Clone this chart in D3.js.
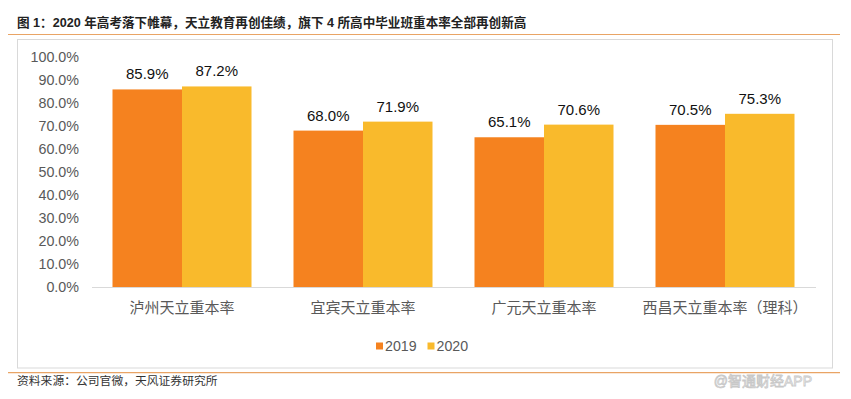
<!DOCTYPE html>
<html><head><meta charset="utf-8">
<script src="https://cdn.jsdelivr.net/npm/d3@7"></script>
<style>
html,body{margin:0;padding:0;background:#fff;}
svg{display:block;}
</style></head>
<body>
<svg id="c" width="851" height="399"></svg>
<script>
const categories = ["泸州天立重本率","宜宾天立重本率","广元天立重本率","西昌天立重本率（理科）"];
const seriesNames = ["2019","2020"];
const values2019 = [85.9, 68.0, 65.1, 70.5];
const values2020 = [87.2, 71.9, 70.6, 75.3];
const yTicks = [0,10,20,30,40,50,60,70,80,90,100];
const colors = ["#F5821F","#F9BA2C"];
const titleText = "图 1：2020 年高考落下帷幕，天立教育再创佳绩，旗下 4 所高中毕业班重本率全部再创新高";
const sourceText = "资料来源：公司官微，天风证券研究所";
const watermark = "@智通财经APP";

const svg = d3.select("#c");
const latin = "'Liberation Sans', Arial, 'Noto Sans CJK SC', sans-serif";
const cjk = "'Liberation Sans', 'Noto Sans CJK SC', sans-serif";

// title
svg.append("text").attr("x",17).attr("y",27)
  .attr("font-family",cjk).attr("font-weight","bold").attr("font-size",12.6)
  .attr("fill","#222").text(titleText);
svg.append("line").attr("x1",8).attr("x2",840).attr("y1",34.5).attr("y2",34.5)
  .attr("stroke","#E9A465").attr("stroke-width",1.2);
// box
svg.append("rect").attr("x",17.5).attr("y",39.5).attr("width",815).attr("height",328.5)
  .attr("fill","none").attr("stroke","#D9D9D9").attr("stroke-width",1);
// bottom line
svg.append("line").attr("x1",8).attr("x2",840).attr("y1",372.7).attr("y2",372.7)
  .attr("stroke","#E9A465").attr("stroke-width",1.2);
svg.append("text").attr("x",17).attr("y",385)
  .attr("font-family",cjk).attr("font-size",11.8).attr("fill","#333").text(sourceText);
svg.append("text").attr("x",812).attr("y",386).attr("text-anchor","end")
  .attr("font-family",cjk).attr("font-size",14).attr("fill","#fff")
  .attr("stroke","#c8c8c8").attr("stroke-width",0.8).text(watermark);

const x0 = d3.scaleBand().domain(categories).range([91.5,815.5]).paddingInner(0.232).paddingOuter(0.116);
const x1 = d3.scaleBand().domain(seriesNames).range([0,x0.bandwidth()]);
const y = d3.scaleLinear().domain([0,100]).range([287,57]);

// y axis labels
const yAxis = d3.axisLeft(y).tickValues(yTicks).tickSize(0).tickPadding(0)
  .tickFormat(d=>d3.format(".1f")(d)+"%");
const ya = svg.append("g").attr("transform","translate(79,0)").call(yAxis);
ya.select(".domain").remove();
ya.selectAll("text").attr("font-family",latin).attr("font-size",14.3).attr("fill","#595959");

// x axis
const xAxis = d3.axisBottom(x0).tickSize(0).tickPadding(15);
const xa = svg.append("g").attr("transform","translate(0,287)").call(xAxis);
xa.select(".domain").attr("stroke","#D9D9D9").attr("stroke-width",1.2);
xa.selectAll("text").attr("font-family",cjk).attr("font-size",15).attr("fill","#595959");

const data = categories.map((c,i)=>({cat:c, vals:[{s:"2019",v:values2019[i]},{s:"2020",v:values2020[i]}]}));
const g = svg.append("g").selectAll("g").data(data).join("g")
  .attr("transform",d=>`translate(${x0(d.cat)},0)`);
g.selectAll("rect").data(d=>d.vals).join("rect")
  .attr("x",d=>x1(d.s)).attr("width",x1.bandwidth())
  .attr("y",d=>y(d.v)).attr("height",d=>y(0)-y(d.v))
  .attr("fill",(d,i)=>colors[i]);
g.selectAll("text.lbl").data(d=>d.vals).join("text").attr("class","lbl")
  .attr("x",d=>x1(d.s)+x1.bandwidth()/2).attr("y",d=>y(d.v)-10)
  .attr("text-anchor","middle").attr("font-family",latin).attr("font-size",15)
  .attr("fill","#111").text(d=>d3.format(".1f")(d.v)+"%");

// legend
const leg = svg.append("g");
const legX = [376, 427.5];
seriesNames.forEach((s,i)=>{
  leg.append("rect").attr("x",legX[i]).attr("y",342.5).attr("width",7).attr("height",7).attr("fill",colors[i]);
  leg.append("text").attr("x",legX[i]+9).attr("y",351).attr("font-family",latin).attr("font-size",14.2)
    .attr("fill","#595959").text(s);
});
</script>
</body></html>
